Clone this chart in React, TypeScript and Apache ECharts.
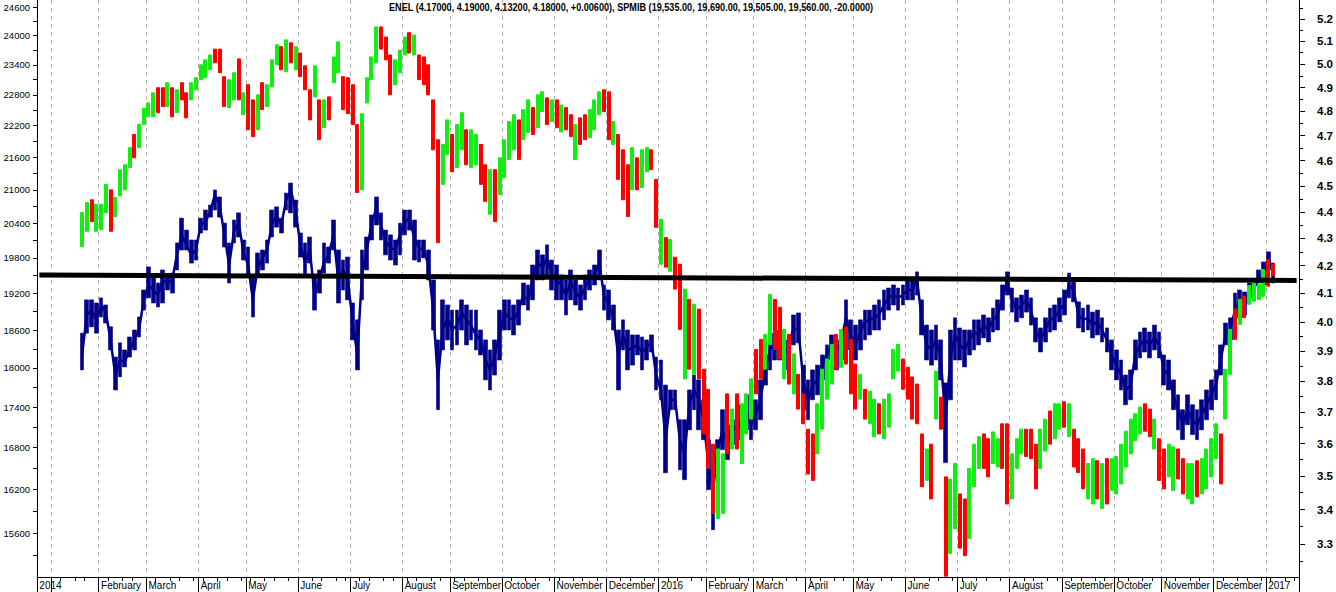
import React, { useEffect, useRef } from 'react';
import * as echarts from 'echarts';

// ---------- data ----------
const N = 266; // two-trading-day periods along the x axis
const FIRST = 9; // first period with data

const monthStart = [0, 3, 13, 23, 34, 44, 55, 66, 77, 87, 98, 109, 120, 131, 141, 151, 162, 172, 183, 194, 205, 216, 227, 237, 248, 259];
const monthLabel = ['2014', '', 'February', 'March', 'April', 'May', 'June', 'July', 'August', 'September', 'October', 'November', 'December', '2016', 'February', 'March', 'April', 'May', 'June', 'July', 'August', 'September', 'October', 'November', 'December', '2017'];

const leftLabels = [15600, 16200, 16800, 17400, 18000, 18600, 19200, 19800, 20400, 21000, 21600, 22200, 22800, 23400, 24000, 24600];
const leftMinor = [15300, 15900, 16500, 17100, 17700, 18300, 18900, 19500, 20100, 20700, 21300, 21900, 22500, 23100, 23700, 24300];
const rightLabels = [3.3, 3.4, 3.5, 3.6, 3.7, 3.8, 3.9, 4.0, 4.1, 4.2, 4.3, 4.4, 4.5, 4.6, 4.7, 4.8, 4.9, 5.0, 5.1, 5.2];
const rightMinor = [3.25, 3.35, 3.45, 3.55, 3.65, 3.75, 3.85, 3.95, 4.05, 4.15, 4.25, 4.35, 4.45, 4.55, 4.65, 4.75, 4.85, 4.95, 5.05, 5.15, 5.25];

// SPMIB bars (open, close) per period
const spmibOpen = [
  19990, 20260, 20820, 20260, 20290, 20590, 21000, 20520, 20890, 21000,
  21410, 22030, 21780, 22220, 22370, 22370, 22940, 22940, 22570, 22940,
  22450, 23040, 22840, 22700, 22900, 23100, 23140, 23300, 23720, 23720,
  23160, 22550, 22700, 23520, 22410, 23000, 22700, 22120, 23040, 22570,
  22960, 23400, 23770, 23260, 23850, 23300, 23640, 23380, 22900, 22760,
  22700, 22160, 22760, 23040, 23240, 23160, 23140, 23000, 22220, 21000,
  22640, 23100, 23440, 24180, 23970, 23600, 23000, 23240, 23600, 24060,
  23600, 23600, 23560, 23400, 22700, 21930, 21100, 21650, 22030, 21410,
  21740, 22120, 21410, 21460, 21840, 21460, 20560, 21370, 20910, 21220,
  21560, 21740, 22310, 21930, 22070, 22550, 22160, 22470, 22740, 22280,
  22700, 22080, 22550, 22410, 21560, 22350, 22410, 21970, 22120, 22410,
  22900, 22860, 21840, 22030, 21740, 21460, 21000, 21590, 21040, 21330,
  21740, 21190, 19690, 20150, 19570, 19810, 19690, 17830, 19100, 17900,
  18940, 17980, 17670, 16850, 15800, 15870, 17600, 16780, 17600, 16570,
  17000, 17220, 18290, 18450, 17980, 18370, 19100, 18970, 17830, 18530,
  17600, 17900, 17600, 17070, 17000, 16710, 17070, 17520, 17750, 18530,
  18010, 18650, 18450, 18060, 17520, 17670, 17150, 16960, 17450, 16930,
  17100, 17830, 17950, 18140, 18010, 17860, 17750, 17000, 16330, 16850,
  17220, 17550, 16380, 15330, 15660, 16140, 16070, 15530, 16240, 16500,
  17000, 16930, 16570, 16520, 17150, 17150, 16070, 16500, 16710, 17070,
  17070, 16850, 16500, 16750, 17340, 16930, 17070, 17480, 16960, 17070,
  16930, 16780, 16070, 16000, 16610, 15940, 16640, 16190, 16140, 16280,
  16520, 16710, 16900, 17000, 17450, 17370, 16780, 16930, 16780, 16380,
  16190, 16780, 16640, 16070, 16000, 16610, 16140, 16210, 16380, 16640,
  17000, 17220, 17900, 18940, 18690, 19150, 19020, 19070, 19100, 19150,
  19770, 19690,
];
const spmibClose = [
  20590, 20770, 20430, 20740, 20740, 21100, 20260, 20860, 21370, 21460,
  21780, 21590, 22220, 22530, 22640, 22840, 22450, 22570, 23040, 22370,
  22900, 22700, 22350, 23040, 23140, 23400, 23500, 23600, 23440, 23240,
  22570, 23100, 23240, 22700, 22840, 22120, 21990, 22800, 22510, 23000,
  23500, 23810, 23300, 23910, 23440, 23770, 23160, 22900, 22310, 23380,
  21930, 22700, 22310, 23560, 23870, 22510, 22430, 22220, 20950, 22430,
  23140, 23560, 24180, 23720, 23500, 22800, 23500, 23700, 23970, 23640,
  24010, 23100, 23000, 22800, 21740, 20060, 21840, 22310, 21330, 22220,
  22450, 21460, 22120, 22030, 21100, 20790, 21370, 20430, 21590, 21930,
  22280, 22410, 21560, 22510, 22700, 22030, 22800, 22860, 22220, 22700,
  22160, 22600, 22120, 21990, 22220, 21840, 21930, 22510, 22700, 22860,
  22470, 21930, 22280, 21190, 20820, 20520, 21780, 21000, 21740, 21780,
  21370, 20330, 20470, 19640, 20120, 19270, 18610, 19270, 17980, 19020,
  17830, 17000, 16500, 15870, 16780, 16710, 16710, 17370, 16780, 17450,
  17600, 17830, 17600, 17830, 18530, 19180, 18290, 18140, 18610, 17750,
  18220, 17370, 17150, 16420, 16330, 17450, 17980, 18140, 18370, 17980,
  18610, 18060, 17600, 17370, 17900, 17220, 17640, 17520, 17000, 17520,
  17600, 18290, 18370, 17670, 17520, 17220, 17150, 16240, 16780, 16070,
  17950, 17070, 15030, 16350, 16570, 15400, 15300, 16500, 16850, 16960,
  16500, 16380, 17030, 16930, 16500, 16000, 16710, 16930, 17070, 16670,
  16640, 16210, 17070, 17220, 16850, 17450, 17450, 17100, 17450, 16520,
  16440, 16210, 16570, 16640, 16070, 16570, 16000, 16640, 16670, 16850,
  17040, 17220, 17300, 17400, 17040, 16960, 17220, 16330, 16210, 16850,
  16810, 16350, 16140, 16570, 16570, 16100, 16640, 16780, 16930, 17150,
  16280, 17980, 18610, 18450, 19100, 18800, 19330, 19380, 19350, 19600,
  19320, 19500,
];

// ENEL close per period
const enelClose = [
  3.887, 4.024, 4.041, 4.007, 4.055, 4.034, 3.938, 3.820, 3.870, 3.864,
  3.904, 3.938, 3.972, 4.077, 4.130, 4.112, 4.094, 4.148, 4.137, 4.148,
  4.239, 4.313, 4.276, 4.239, 4.257, 4.350, 4.361, 4.400, 4.465, 4.426,
  4.313, 4.202, 4.324, 4.361, 4.250, 4.202, 4.077, 4.191, 4.228, 4.257,
  4.350, 4.388, 4.350, 4.445, 4.484, 4.407, 4.276, 4.213, 4.257, 4.094,
  4.148, 4.213, 4.239, 4.313, 4.148, 4.184, 4.148, 4.007, 3.887, 4.166,
  4.257, 4.350, 4.415, 4.350, 4.287, 4.265, 4.257, 4.313, 4.361, 4.377,
  4.302, 4.265, 4.257, 4.202, 4.041, 3.804, 3.972, 4.014, 3.972, 3.989,
  4.034, 4.007, 3.989, 3.955, 3.938, 3.870, 3.837, 3.887, 3.955, 4.034,
  4.014, 4.007, 4.041, 4.094, 4.077, 4.148, 4.213, 4.191, 4.228, 4.166,
  4.148, 4.130, 4.094, 4.141, 4.105, 4.084, 4.119, 4.155, 4.166, 4.213,
  4.094, 4.059, 4.014, 3.887, 3.955, 3.904, 3.911, 3.921, 3.897, 3.911,
  3.931, 3.820, 3.771, 3.612, 3.739, 3.739, 3.612, 3.566, 3.723, 3.771,
  3.739, 3.675, 3.535, 3.459, 3.581, 3.643, 3.597, 3.659, 3.637, 3.675,
  3.700, 3.659, 3.691, 3.739, 3.837, 3.904, 3.921, 3.931, 3.887, 3.921,
  3.979, 3.972, 3.804, 3.739, 3.787, 3.804, 3.853, 3.887, 3.921, 3.897,
  3.931, 4.014, 3.955, 3.921, 3.965, 4.000, 4.007, 4.014, 4.024, 4.059,
  4.084, 4.094, 4.084, 4.094, 4.112, 4.112, 4.148, 4.007, 3.921, 3.904,
  3.938, 3.870, 3.675, 3.870, 3.955, 3.921, 3.904, 3.938, 3.965, 3.955,
  3.989, 3.972, 4.007, 4.024, 4.084, 4.148, 4.077, 4.041, 4.059, 4.077,
  4.041, 3.972, 3.938, 3.972, 4.007, 4.014, 4.041, 4.059, 4.130, 4.112,
  4.024, 4.007, 4.014, 3.989, 4.000, 3.972, 3.938, 3.887, 3.853, 3.820,
  3.771, 3.787, 3.887, 3.921, 3.938, 3.921, 3.945, 3.921, 3.837, 3.820,
  3.755, 3.707, 3.659, 3.707, 3.675, 3.659, 3.691, 3.723, 3.755, 3.787,
  3.870, 3.955, 3.972, 4.041, 4.077, 4.059, 4.112, 4.119, 4.148, 4.177,
  4.228, 4.180,
];

// ENEL daily range inside each period (high / low of the line)
const enelHigh = [
  3.961, 4.077, 4.077, 4.066, 4.084, 4.059, 3.983, 3.880, 3.928, 3.904,
  3.948, 3.972, 4.017, 4.112, 4.195, 4.159, 4.137, 4.184, 4.159, 4.173,
  4.283, 4.376, 4.331, 4.294, 4.294, 4.376, 4.407, 4.426, 4.484, 4.457,
  4.357, 4.283, 4.369, 4.396, 4.294, 4.268, 4.159, 4.246, 4.257, 4.294,
  4.407, 4.419, 4.376, 4.472, 4.511, 4.445, 4.320, 4.283, 4.305, 4.159,
  4.184, 4.283, 4.268, 4.369, 4.257, 4.220, 4.231, 4.066, 4.007, 4.257,
  4.305, 4.388, 4.457, 4.396, 4.331, 4.313, 4.294, 4.357, 4.407, 4.407,
  4.369, 4.294, 4.294, 4.257, 4.148, 3.938, 4.077, 4.059, 4.041, 4.041,
  4.077, 4.059, 4.041, 4.041, 3.972, 3.938, 3.904, 3.938, 4.041, 4.077,
  4.077, 4.059, 4.077, 4.137, 4.130, 4.202, 4.257, 4.239, 4.276, 4.220,
  4.202, 4.166, 4.148, 4.184, 4.148, 4.130, 4.166, 4.184, 4.202, 4.257,
  4.130, 4.112, 4.059, 3.972, 4.007, 3.972, 3.955, 3.955, 3.948, 3.938,
  3.955, 3.880, 3.870, 3.787, 3.771, 3.771, 3.675, 3.675, 3.771, 3.820,
  3.804, 3.739, 3.612, 3.581, 3.612, 3.707, 3.659, 3.707, 3.675, 3.723,
  3.755, 3.739, 3.739, 3.804, 3.887, 3.961, 3.961, 3.972, 3.938, 3.955,
  4.024, 4.031, 3.853, 3.804, 3.837, 3.853, 3.887, 3.921, 3.955, 3.938,
  3.972, 4.077, 4.007, 3.989, 4.007, 4.041, 4.041, 4.059, 4.077, 4.112,
  4.119, 4.130, 4.119, 4.130, 4.148, 4.155, 4.177, 4.077, 3.989, 3.972,
  3.989, 3.938, 3.794, 3.972, 4.014, 3.979, 3.972, 3.972, 4.007, 4.007,
  4.024, 4.014, 4.048, 4.077, 4.130, 4.177, 4.119, 4.084, 4.094, 4.112,
  4.084, 4.014, 3.979, 4.014, 4.048, 4.059, 4.084, 4.112, 4.173, 4.155,
  4.070, 4.048, 4.059, 4.034, 4.041, 4.014, 3.979, 3.938, 3.904, 3.870,
  3.820, 3.837, 3.938, 3.965, 3.979, 3.965, 3.989, 3.965, 3.887, 3.870,
  3.804, 3.755, 3.707, 3.755, 3.723, 3.707, 3.739, 3.771, 3.804, 3.837,
  3.921, 3.996, 4.014, 4.101, 4.112, 4.105, 4.137, 4.148, 4.184, 4.213,
  4.250, 4.209,
];
const enelLow = [
  3.837, 3.961, 3.983, 3.961, 4.017, 3.996, 3.904, 3.771, 3.814, 3.847,
  3.880, 3.904, 3.948, 4.041, 4.084, 4.066, 4.052, 4.066, 4.112, 4.101,
  4.184, 4.257, 4.257, 4.209, 4.220, 4.320, 4.331, 4.380, 4.407, 4.380,
  4.268, 4.137, 4.283, 4.305, 4.220, 4.159, 4.017, 4.159, 4.184, 4.209,
  4.305, 4.342, 4.320, 4.407, 4.396, 4.342, 4.231, 4.159, 4.209, 4.041,
  4.101, 4.173, 4.209, 4.257, 4.066, 4.112, 4.077, 3.938, 3.837, 4.077,
  4.184, 4.294, 4.350, 4.294, 4.239, 4.220, 4.202, 4.239, 4.313, 4.331,
  4.220, 4.213, 4.228, 4.148, 3.972, 3.707, 3.904, 3.938, 3.904, 3.921,
  3.972, 3.921, 3.938, 3.904, 3.887, 3.804, 3.771, 3.820, 3.870, 3.972,
  3.972, 3.955, 3.989, 4.059, 4.041, 4.077, 4.148, 4.148, 4.166, 4.112,
  4.077, 4.077, 4.024, 4.077, 4.059, 4.041, 4.077, 4.112, 4.130, 4.148,
  4.041, 4.007, 3.972, 3.771, 3.904, 3.837, 3.853, 3.887, 3.837, 3.870,
  3.897, 3.771, 3.739, 3.510, 3.707, 3.707, 3.519, 3.489, 3.643, 3.707,
  3.643, 3.612, 3.459, 3.341, 3.519, 3.581, 3.550, 3.612, 3.597, 3.612,
  3.643, 3.612, 3.643, 3.675, 3.787, 3.837, 3.870, 3.870, 3.837, 3.870,
  3.921, 3.928, 3.707, 3.675, 3.739, 3.755, 3.804, 3.837, 3.870, 3.837,
  3.870, 3.938, 3.904, 3.870, 3.904, 3.938, 3.955, 3.972, 3.972, 4.007,
  4.041, 4.059, 4.041, 4.059, 4.077, 4.077, 4.094, 3.955, 3.870, 3.853,
  3.870, 3.804, 3.541, 3.739, 3.870, 3.870, 3.847, 3.887, 3.904, 3.921,
  3.945, 3.931, 3.965, 3.972, 4.041, 4.094, 4.034, 4.000, 4.014, 4.034,
  3.989, 3.931, 3.897, 3.931, 3.965, 3.972, 4.000, 4.024, 4.084, 4.070,
  3.979, 3.965, 3.972, 3.945, 3.955, 3.931, 3.897, 3.837, 3.804, 3.771,
  3.723, 3.739, 3.837, 3.877, 3.897, 3.877, 3.904, 3.877, 3.787, 3.771,
  3.707, 3.643, 3.612, 3.659, 3.628, 3.612, 3.643, 3.675, 3.707, 3.739,
  3.820, 3.921, 3.938, 4.007, 4.014, 4.024, 4.084, 4.084, 4.137, 4.130,
  4.184, 4.137,
];

const trendStart = 4.166;
const trendEnd = 4.146;

const titleText = 'ENEL (4.17000, 4.19000, 4.13200, 4.18000, +0.00600), SPMIB (19,535.00, 19,690.00, 19,505.00, 19,560.00, -20.0000)';

// ---------- styles ----------
const GREEN = '#11ee11';
const RED = '#ff0000';
const NAVY = '#000088';
const FONT = '"Liberation Sans", Arial, sans-serif';

function buildOption() {
  const periods = Array.from({ length: N }, (_, i) => 'P' + i);
  const monthSet = new Set(monthStart);
  const labelAt = new Map<number, string>();
  monthStart.forEach((k, j) => labelAt.set(k, monthLabel[j]));
  const weekTick = (i: number) => Math.floor(i / 2.5) !== Math.floor((i - 1) / 2.5);

  const candle: any[] = Array.from({ length: N }, () => '-');
  const enel: any[] = Array.from({ length: N }, () => '-');
  const enelBand: any[] = Array.from({ length: N }, () => '-');
  spmibOpen.forEach((o, j) => {
    const c = spmibClose[j];
    candle[FIRST + j] = [o, c, Math.min(o, c), Math.max(o, c)];
  });
  enelClose.forEach((v, j) => {
    enel[FIRST + j] = v;
  });
  enelHigh.forEach((h, j) => {
    const l = enelLow[j];
    enelBand[FIRST + j] = [l, h, l, h];
  });

  return {
    animation: false,
    backgroundColor: '#ffffff',
    grid: { left: 37, right: 36, top: 0, bottom: 15 },
    graphic: [
      {
        type: 'text',
        x: 389,
        y: 2,
        scaleX: 0.83,
        z: 100,
        style: {
          text: titleText,
          fill: '#000',
          font: 'bold 11px "Liberation Sans", Arial, sans-serif',
        },
      },
    ],
    xAxis: [
      {
        type: 'category',
        data: periods,
        boundaryGap: true,
        position: 'bottom',
        axisLine: { show: true, lineStyle: { color: '#000', width: 1 } },
        axisTick: {
          show: true,
          interval: (i: number) => monthSet.has(i),
          length: 15,
          lineStyle: { color: '#000', width: 1 },
        },
        axisLabel: {
          interval: (i: number) => !!labelAt.get(i),
          formatter: (_v: string, i: number) => labelAt.get(i) || '',
          align: 'left',
          fontSize: 10,
          fontFamily: FONT,
          color: '#000',
          margin: 3,
        },
        splitLine: {
          show: true,
          interval: (i: number) => monthSet.has(i),
          lineStyle: { color: '#b4b4b4', type: [4, 4], width: 1 },
        },
      },
      {
        type: 'category',
        data: periods,
        boundaryGap: true,
        position: 'bottom',
        axisLine: { show: false },
        axisLabel: { show: false },
        splitLine: { show: false },
        axisTick: {
          show: true,
          interval: (i: number) => weekTick(i),
          length: 4,
          lineStyle: { color: '#000', width: 1 },
        },
      },
    ],
    yAxis: [
      {
        type: 'log',
        position: 'left',
        min: 15020,
        max: 24750,
        axisLine: { show: true, lineStyle: { color: '#000', width: 1 } },
        axisTick: { show: true, length: 4, customValues: [...leftLabels, ...leftMinor], lineStyle: { color: '#000' } },
        axisLabel: {
          customValues: leftLabels,
          formatter: (v: number) => String(Math.round(v)),
          fontSize: 9.5,
          fontFamily: FONT,
          color: '#000',
          margin: 7,
        },
        splitLine: { show: false },
        minorTick: { show: false },
      },
      {
        type: 'log',
        position: 'right',
        min: 3.207,
        max: 5.286,
        axisLine: { show: true, lineStyle: { color: '#000', width: 1 } },
        axisTick: { show: true, length: 6, customValues: rightLabels, lineStyle: { color: '#000' } },
        axisLabel: {
          customValues: rightLabels,
          formatter: (v: number) => v.toFixed(1),
          fontSize: 11.5,
          fontWeight: 'bold',
          fontFamily: FONT,
          color: '#000',
          margin: 18,
        },
        splitLine: { show: false },
      },
      {
        type: 'log',
        position: 'right',
        min: 3.207,
        max: 5.286,
        axisLine: { show: false },
        axisTick: { show: true, length: 4, customValues: rightMinor, lineStyle: { color: '#000' } },
        axisLabel: { show: false },
        splitLine: { show: false },
      },
    ],
    series: [
      {
        name: 'ENEL range',
        type: 'candlestick',
        xAxisIndex: 0,
        yAxisIndex: 1,
        data: enelBand,
        barWidth: 4.2,
        itemStyle: {
          color: NAVY,
          color0: NAVY,
          borderColor: NAVY,
          borderColor0: NAVY,
          borderWidth: 0.6,
        },
        z: 1,
      },
      {
        name: 'ENEL',
        type: 'line',
        xAxisIndex: 0,
        yAxisIndex: 1,
        data: enel,
        showSymbol: false,
        symbol: 'none',
        lineStyle: { color: NAVY, width: 2.5, join: 'miter' },
        z: 2,
      },
      {
        name: 'SPMIB',
        type: 'candlestick',
        xAxisIndex: 0,
        yAxisIndex: 0,
        data: candle,
        barWidth: 3.5,
        itemStyle: {
          color: GREEN,
          color0: RED,
          borderColor: GREEN,
          borderColor0: RED,
          borderWidth: 1,
        },
        z: 3,
      },
      {
        name: 'trend',
        type: 'line',
        xAxisIndex: 0,
        yAxisIndex: 1,
        data: [
          [0, trendStart],
          [N - 1, trendEnd],
        ],
        showSymbol: false,
        symbol: 'none',
        lineStyle: { color: '#000', width: 5 },
        z: 4,
      },
    ],
  };
}

export default function App() {
  const ref = useRef<HTMLDivElement>(null);
  useEffect(() => {
    if (!ref.current) return;
    const chart = echarts.init(ref.current, null, { renderer: 'svg' });
    chart.setOption(buildOption() as any);
    return () => {
      chart.dispose();
    };
  }, []);
  return (
    <div
      ref={ref}
      style={{ position: 'fixed', left: 0, top: 0, width: 1336, height: 592, background: '#fff' }}
    />
  );
}
